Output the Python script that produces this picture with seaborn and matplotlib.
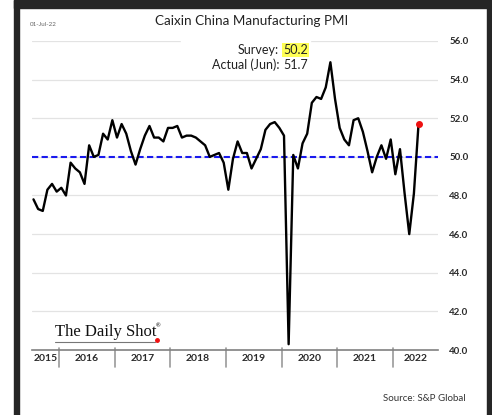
"""Caixin China Manufacturing PMI, Daily Shot style."""

import matplotlib.pyplot as plt
import pandas as pd
import seaborn as sns
from matplotlib.patches import Rectangle
from matplotlib.lines import Line2D

# monthly readings, Jul 2015 .. Jun 2022
months = pd.date_range("2015-07-01", "2022-06-01", freq="MS")
pmi = [
    47.8, 47.3, 47.2, 48.3, 48.6, 48.2,
    48.4, 48.0, 49.7, 49.4, 49.2, 48.6, 50.6, 50.0, 50.1, 51.2, 50.9, 51.9,
    51.0, 51.7, 51.2, 50.3, 49.6, 50.4, 51.1, 51.6, 51.0, 51.0, 50.8, 51.5,
    51.5, 51.6, 51.0, 51.1, 51.1, 51.0, 50.8, 50.6, 50.0, 50.1, 50.2, 49.7,
    48.3, 49.9, 50.8, 50.2, 50.2, 49.4, 49.9, 50.4, 51.4, 51.7, 51.8, 51.5,
    51.1, 40.3, 50.1, 49.4, 50.7, 51.2, 52.8, 53.1, 53.0, 53.6, 54.9, 53.0,
    51.5, 50.9, 50.6, 51.9, 52.0, 51.3, 50.3, 49.2, 50.0, 50.6, 49.9, 50.9,
    49.1, 50.4, 48.1, 46.0, 48.1, 51.7,
]
years = [2015, 2016, 2017, 2018, 2019, 2020, 2021, 2022]
y_ticks = [40, 42, 44, 46, 48, 50, 52, 54, 56]
survey = 50.2
actual = 51.7

df = pd.DataFrame({"date": months, "pmi": pmi})
df["x"] = df["date"].dt.year + (df["date"].dt.month - 0.5) / 12

sns.set_theme(style="white")
plt.rcParams["font.family"] = ["Lato", "DejaVu Sans"]

fig = plt.figure(figsize=(4.92, 4.15), dpi=100)
ax = fig.add_axes([32 / 492, 1 - 350 / 415, 406 / 492, 309 / 415])

x_min, x_max = 2015.515, 2022.808
ax.set_xlim(x_min, x_max)
ax.set_ylim(40, 56)

# grid
for v in y_ticks[1:]:
    ax.axhline(v, color="#e3e3e3", lw=0.9, zorder=0)

ax.axhline(50, color="#1a1aee", lw=1.5, ls=(0, (3, 1.6)), zorder=2)

sns.lineplot(data=df, x="x", y="pmi", color="black", lw=1.7, ax=ax, zorder=3)
ax.scatter(df["x"].iloc[-1], df["pmi"].iloc[-1], color="#ee1111", s=16, zorder=4)

# y axis on the right
ax.yaxis.tick_right()
ax.set_yticks(y_ticks)
ax.set_yticklabels([f"{v:.1f}" for v in y_ticks], fontsize=7,
                   fontweight="bold", color="#2a2a2a")
ax.tick_params(axis="y", length=0, pad=8)
ax.set_xticks([])
ax.set_xlabel("")
ax.set_ylabel("")
for s in ["top", "left", "right"]:
    ax.spines[s].set_visible(False)
ax.spines["bottom"].set_color("#808080")
ax.spines["bottom"].set_linewidth(1.2)

# year separators and labels below the axis
tr = ax.get_xaxis_transform()
for yr in years[1:]:
    ax.add_line(Line2D([yr, yr], [0.008, -0.055], transform=tr, color="#9a9a9a",
                       lw=1.2, clip_on=False))
edges = [x_min] + years[1:] + [x_max]
for i, yr in enumerate(years):
    ax.text((edges[i] + edges[i + 1]) / 2, -0.027, str(yr), transform=tr,
            ha="center", va="center", fontsize=7.5, fontweight="bold",
            color="#2a2a2a")

# header text
fig.patches.append(Rectangle((181 / 492, 1 - 48 / 415), 129 / 492, 14 / 415,
                             transform=fig.transFigure, color="white", zorder=1))
fig.text(252 / 492, 0.950, "Caixin China Manufacturing PMI", ha="center",
         va="center", fontsize=9.7, color="#222222")
fig.text(30 / 492, 0.942, "01-Jul-22", ha="left", va="center", fontsize=4.5,
         color="#666666")
fig.text(279 / 492, 1 - 50 / 415, "Survey:", ha="right", va="center",
         fontsize=9, color="#222222")
fig.text(279 / 492, 1 - 65 / 415, "Actual (Jun):", ha="right", va="center",
         fontsize=9, color="#222222")
fig.text(283 / 492, 1 - 50 / 415, f"{survey:.1f}", ha="left", va="center",
         fontsize=9, color="#222222",
         bbox=dict(facecolor="#ffff55", edgecolor="none", pad=1.0))
fig.text(283 / 492, 1 - 65 / 415, f"{actual:.1f}", ha="left", va="center",
         fontsize=9, color="#222222")

# logo
fig.text(55 / 492, 1 - 332 / 415, "The Daily Shot", ha="left", va="center",
         fontsize=12, family=["Liberation Serif"], color="#111111")
fig.text(156 / 492, 1 - 326 / 415, "®", ha="left", va="center",
         fontsize=4, color="#111111")
fig.add_artist(Line2D([55 / 492, 155 / 492], [1 - 342 / 415, 1 - 342 / 415],
                      color="#777777", lw=0.8))
fig.add_artist(Line2D([157 / 492], [1 - 340 / 415], marker="o", ms=2.5,
                      color="#ee1111", lw=0))

fig.text(466 / 492, 1 - 398 / 415, "Source: S&P Global", ha="right",
         va="center", fontsize=7, color="#333333")

# dark frame of the screenshot
frame = "#262626"
for x0, y0, w, h in [(14, 0, 5, 415), (14, 0, 478, 8), (487, 0, 5, 415)]:
    fig.patches.append(Rectangle((x0 / 492, 1 - (y0 + h) / 415), w / 492,
                                 h / 415, transform=fig.transFigure,
                                 color=frame, zorder=5))

fig.savefig("out.png", dpi=100)
